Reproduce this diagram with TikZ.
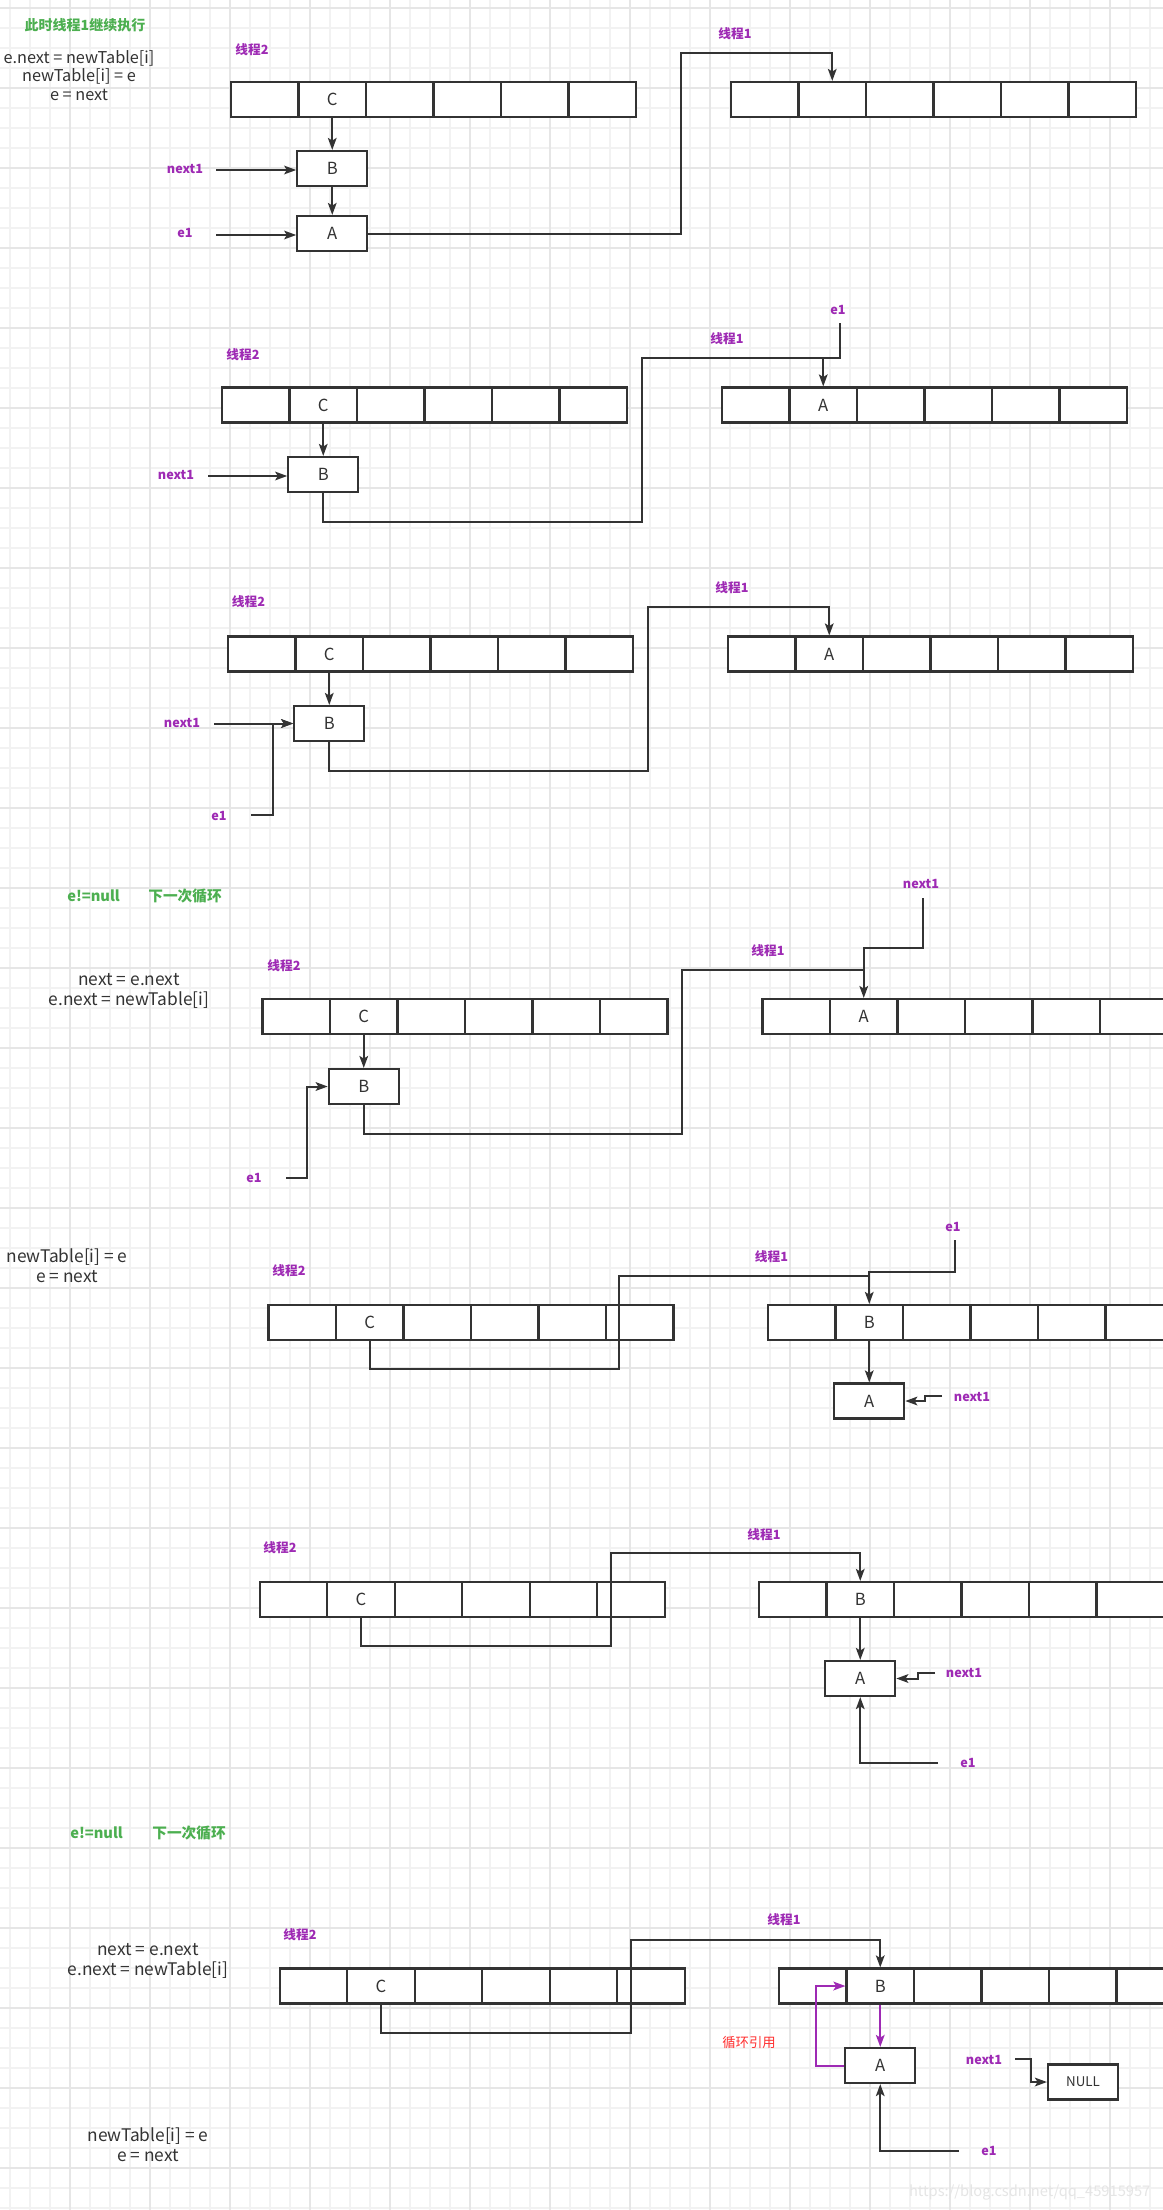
\documentclass[tikz,border=0pt]{standalone}
\usepackage{fontspec}
\setmainfont{Noto Sans CJK SC}
\usetikzlibrary{arrows.meta,calc,positioning}
\definecolor{ink}{HTML}{333333}
\definecolor{violet1}{HTML}{9E2AB4}
\definecolor{green1}{HTML}{4CAF50}
\definecolor{red1}{HTML}{FF3030}
\definecolor{gminor}{HTML}{F2F2F2}
\definecolor{gmajor}{HTML}{E6E6E6}

% one row of six table slots, text in slot 2
\newcommand{\drawslots}[4]{%
  \foreach \k in {1,...,6}
    \node[slot] (#1-\k) at ({#2+67.5*(\k-0.5)},#3) {\ifnum\k=2 #4\fi};
}

\begin{document}
\begin{tikzpicture}[x=0.75pt,y=-0.75pt,
    slot/.style={draw=ink,line width=1.6pt,fill=white,minimum width=50.6pt,
      minimum height=26.25pt,inner sep=0pt,text=ink,font=\fontsize{12.5}{14}\selectfont},
    nodebox/.style={slot,minimum width=52.5pt},
    wire/.style={draw=ink,line width=1.5pt},
    arr/.style={wire,-{Stealth[length=9pt,width=6.5pt,inset=2pt]}},
    parr/.style={arr,draw=violet1},
    ptr/.style={text=violet1,font=\bfseries\fontsize{9.5}{11}\selectfont},
    stmt/.style={align=center,text=ink,font=\fontsize{13}{15}\selectfont},
    remark/.style={text=green1,font=\bfseries\fontsize{11}{12}\selectfont},
    gridminor/.style={draw=gminor,line width=1.1pt},
    gridmajor/.style={draw=gmajor,line width=1.8pt}]
    \useasboundingbox (0,0) rectangle (1163,2210);
    \clip (0,0) rectangle (1163,2210);
    \fill[white] (0,0) rectangle (1163,2210);

    % grid paper
    \foreach \gx in {0,...,57} \draw[gridminor] ({10+20*\gx},0) -- ({10+20*\gx},2210);
    \foreach \gy in {0,...,110} \draw[gridminor] (0,{8+20*\gy}) -- (1163,{8+20*\gy});
    \foreach \gx in {0,...,13} \draw[gridmajor] ({70+80*\gx},0) -- ({70+80*\gx},2210);
    \foreach \gy in {0,...,27} \draw[gridmajor] (0,{8+80*\gy}) -- (1163,{8+80*\gy});

    % step 1
    \node[remark,font=\bfseries\fontsize{10.5}{12}\selectfont] (note1) at (85,25) {此时线程1继续执行};
    \node[stmt,font=\fontsize{12.2}{14}\selectfont] (code1) at (79,75.5) {e.next = newTable[i]\\newTable[i] = e\\e = next};
    \node[ptr] (t2a) at (252,50) {线程2};
    \node[ptr] (t1a) at (735,34) {线程1};
    \drawslots{L1}{231}{99.5}{C}
    \drawslots{R1}{731}{99.5}{}
    \node[nodebox] (B1) at (332.25,168.5) {B};
    \node[nodebox] (A1) at (332.25,233.5) {A};
    \node[ptr] (n1a) at (185,169) {next1};
    \node[ptr] (e1a) at (185,233) {e1};
    \coordinate (n1a0) at (216,170);
    \coordinate (e1a0) at (216,235);
    \coordinate (k1) at (681,53);
    \draw[arr] (L1-2.south) -- (B1.north);
    \draw[arr] (B1.south) -- (A1.north);
    \draw[arr] (n1a0) -- (n1a0 -| B1.west);
    \draw[arr] (e1a0) -- (e1a0 -| A1.west);
    \draw[arr] (A1.east) -| (k1) -| (R1-2.north);

    % step 2
    \node[ptr] (e1b) at (838,310) {e1};
    \node[ptr] (t1b) at (727,339) {线程1};
    \node[ptr] (t2b) at (243,355) {线程2};
    \node[ptr] (n1b) at (176,475) {next1};
    \drawslots{L2}{222}{405}{C}
    \drawslots{R2}{722}{405}{A}
    \node[nodebox] (B2) at (323.25,474.5) {B};
    \coordinate (n1b0) at (208,476);
    \coordinate (e1b0) at (840,323);
    \coordinate (k2a) at (642,522);
    \coordinate (k2b) at (642,358);
    \draw[arr] (L2-2.south) -- (B2.north);
    \draw[arr] (n1b0) -- (n1b0 -| B2.west);
    \draw[arr] (B2.south) |- (k2a) -- (k2b) -| (R2-2.north);
    \draw[wire] (e1b0) |- (k2b -| R2-2.north);

    % step 3
    \node[ptr] (t1c) at (732,588) {线程1};
    \node[ptr] (t2c) at (248.5,602) {线程2};
    \node[ptr] (n1c) at (182,723) {next1};
    \node[ptr] (e1c) at (219,816) {e1};
    \drawslots{L3}{228}{654}{C}
    \drawslots{R3}{728}{654}{A}
    \node[nodebox] (B3) at (329.25,723.5) {B};
    \coordinate (n1c0) at (214,723.5);
    \coordinate (e1c0) at (251,815);
    \coordinate (k3c) at (273,815);
    \coordinate (k3a) at (648,771);
    \coordinate (k3b) at (648,607);
    \draw[arr] (L3-2.south) -- (B3.north);
    \draw[arr] (n1c0) -- (B3.west);
    \draw[arr] (e1c0) -- (k3c) |- (B3.west);
    \draw[arr] (B3.south) |- (k3a) -- (k3b) -| (R3-2.north);

    % step 4
    \node[remark] (nn1) at (93.5,896) {e!=null};
    \node[remark] (lp1) at (185,896) {下一次循环};
    \node[stmt] (code2) at (129,991) {next = e.next\\e.next = newTable[i]};
    \node[ptr] (n1d) at (921,884) {next1};
    \node[ptr] (t1d) at (768,951) {线程1};
    \node[ptr] (t2d) at (284,966) {线程2};
    \node[ptr] (e1d) at (254,1178) {e1};
    \drawslots{L4}{262.5}{1016.5}{C}
    \drawslots{R4}{762.5}{1016.5}{A}
    \node[nodebox] (B4) at (363.75,1086.5) {B};
    \coordinate (e1d0) at (286,1178);
    \coordinate (k4d) at (307,1178);
    \coordinate (n1d0) at (923,898);
    \coordinate (k4c) at (863.75,948);
    \coordinate (k4a) at (682,1134);
    \coordinate (k4b) at (682,970);
    \draw[arr] (L4-2.south) -- (B4.north);
    \draw[arr] (e1d0) -- (k4d) |- (B4.west);
    \draw[arr] (B4.south) |- (k4a) -- (k4b) -| (R4-2.north);
    \draw[wire] (n1d0) |- (k4c) -- (k4b -| R4-2.north);

    % step 5
    \node[stmt] (code3) at (67,1265.5) {newTable[i] = e\\e = next};
    \node[ptr] (e1e) at (953,1227) {e1};
    \node[ptr] (t1e) at (771.5,1257) {线程1};
    \node[ptr] (t2e) at (289,1271) {线程2};
    \node[ptr] (n1e) at (972,1397) {next1};
    \drawslots{L5}{268.5}{1322.5}{C}
    \drawslots{R5}{768}{1322.5}{B}
    \node[nodebox] (A5) at (869.25,1401) {A};
    \coordinate (e1e0) at (955,1240);
    \coordinate (k5c) at (869.25,1272);
    \coordinate (n1e0) at (942,1396);
    \coordinate (k5d) at (925,1396);
    \coordinate (k5a) at (619,1369);
    \coordinate (k5b) at (619,1276);
    \draw[arr] (L5-2.south) |- (k5a) -- (k5b) -| (R5-2.north);
    \draw[wire] (e1e0) |- (k5c) -- (k5b -| R5-2.north);
    \draw[arr] (R5-2.south) -- (A5.north);
    \draw[arr] (n1e0) -- (k5d) |- (A5.east);

    % step 6
    \node[ptr] (t2f) at (280,1548) {线程2};
    \node[ptr] (t1f) at (764,1535) {线程1};
    \node[ptr] (n1f) at (964,1673) {next1};
    \node[ptr] (e1f) at (968,1763) {e1};
    \drawslots{L6}{259.6}{1599.5}{C}
    \drawslots{R6}{759}{1599.5}{B}
    \node[nodebox] (A6) at (860.25,1678.5) {A};
    \coordinate (n1f0) at (935,1673);
    \coordinate (k6d) at (918,1673);
    \coordinate (e1f0) at (938,1763);
    \coordinate (k6a) at (610.5,1646);
    \coordinate (k6b) at (610.5,1553);
    \draw[arr] (L6-2.south) |- (k6a) -- (k6b) -| (R6-2.north);
    \draw[arr] (R6-2.south) -- (A6.north);
    \draw[arr] (n1f0) -- (k6d) |- (A6.east);
    \draw[arr] (e1f0) -| (A6.south);
    \node[remark] (nn2) at (96.5,1833) {e!=null};
    \node[remark] (lp2) at (189,1833) {下一次循环};

    % step 7
    \node[ptr] (t1g) at (784,1920) {线程1};
    \node[ptr] (t2g) at (300,1935) {线程2};
    \node[stmt] (code4) at (148,1961) {next = e.next\\e.next = newTable[i]};
    \node[stmt] (code5) at (148,2145) {newTable[i] = e\\e = next};
    \node[ptr] (n1g) at (984,2060) {next1};
    \node[ptr] (e1g) at (989,2151) {e1};
    \node[text=red1,font=\fontsize{10}{12}\selectfont] (loopref) at (749,2042) {循环引用};
    \drawslots{L7}{279.7}{1986}{C}
    \drawslots{R7}{779}{1986}{B}
    \node[nodebox] (A7) at (880.25,2065.5) {A};
    \node[nodebox,font=\fontsize{10}{12}\selectfont] (NULL) at (1083,2082) {NULL};
    \coordinate (k7a) at (630.6,2033);
    \coordinate (k7b) at (630.6,1940);
    \coordinate (k7c) at (816,2065.5);
    \coordinate (n1g0) at (1015,2059);
    \coordinate (k7d) at (1031,2059);
    \coordinate (e1g0) at (959,2151);
    \draw[arr] (L7-2.south) |- (k7a) -- (k7b) -| (R7-2.north);
    \draw[parr] (R7-2.south) -- (A7.north);
    \draw[parr] (A7.west) -- (k7c) |- (R7-2.west);
    \draw[arr] (n1g0) -- (k7d) |- (NULL.west);
    \draw[arr] (e1g0) -| (A7.south);

    \node[anchor=east,text=gray!20,font=\fontsize{11}{12}\selectfont] (mark) at (1155,2192) {https://blog.csdn.net/qq\_45915957};
\end{tikzpicture}
\end{document}
